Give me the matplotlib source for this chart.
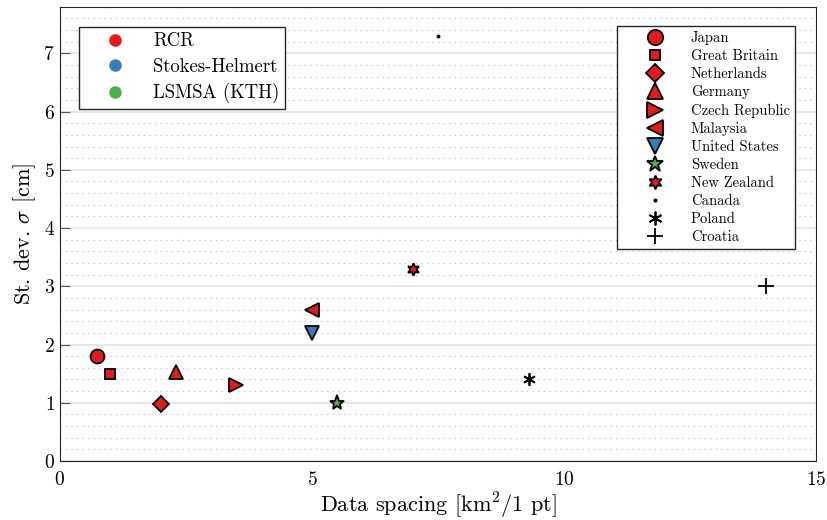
import numpy as np
import matplotlib
matplotlib.use("Agg")
import matplotlib.pyplot as plt
from matplotlib.lines import Line2D
from matplotlib.ticker import MultipleLocator

plt.rcParams['font.family'] = 'serif'
plt.rcParams['font.serif'] = ['cmr10', 'DejaVu Serif']
plt.rcParams['mathtext.fontset'] = 'cm'
plt.rcParams['axes.formatter.use_mathtext'] = True

# datos
paises = ["Japan", "Great Britain", "Netherlands", "Germany", "Czech Republic",
          "Malaysia", "United States", "Sweden", "New Zealand", "Canada",
          "Poland", "Croatia"]
espaciado = [0.75, 1.0, 2.0, 2.3, 3.5, 5.0, 5.0, 5.5, 7.0, 7.5, 9.3, 14.0]
sigma = [1.8, 1.5, 0.98, 1.52, 1.3, 2.6, 2.2, 1.0, 3.3, 7.3, 1.4, 3.0]
metodo = ["RCR", "RCR", "RCR", "RCR", "RCR", "RCR", "SH", "KTH", "RCR",
          None, None, None]
marcas = ["o", "s", "D", "^", ">", "<", "v", "*", (6, 1, 0), ".", (6, 2, 0), "+"]
tamanos = [10, 7, 8, 10, 10, 10, 10, 11, 9, 3, 9, 11]

colores = {"RCR": "#E41A1C", "SH": "#377EB8", "KTH": "#4DAF4A", None: "k"}
metodos_leyenda = ["RCR", "Stokes-Helmert", "LSMSA (KTH)"]

fig, ax = plt.subplots(figsize=(8.28, 5.2), dpi=100)

handles = []
for i in range(len(paises)):
    c = colores[metodo[i]]
    if metodo[i] is None:
        h, = ax.plot(espaciado[i], sigma[i], linestyle="none", marker=marcas[i],
                     markersize=tamanos[i], color="k", markeredgewidth=1.3,
                     label=paises[i])
    else:
        h, = ax.plot(espaciado[i], sigma[i], linestyle="none", marker=marcas[i],
                     markersize=tamanos[i], markerfacecolor=c,
                     markeredgecolor="k", markeredgewidth=1.3, label=paises[i])
    handles.append(h)

ax.set_xlim(0, 15)
ax.set_ylim(0, 7.8)
ax.xaxis.set_major_locator(MultipleLocator(5))
ax.yaxis.set_major_locator(MultipleLocator(1))
ax.yaxis.set_minor_locator(MultipleLocator(0.2))
ax.grid(True, axis="y", which="major", color="#e4e4e4", linewidth=1.2)
ax.grid(True, axis="y", which="minor", color="#bbbbbb", linestyle=(0, (1, 4)),
        linewidth=0.8)
ax.set_axisbelow(True)
ax.tick_params(direction="in", which="both", labelsize=14)
ax.tick_params(axis="y", which="major", length=7, color="#555555")
ax.tick_params(axis="x", length=0, pad=7)
ax.tick_params(which="minor", length=0)
for s in ax.spines.values():
    s.set_linewidth(0.8)
    s.set_color("#262626")

ax.set_xlabel(r"Data spacing [km$^2$/1 pt]", fontsize=16, labelpad=2)
ax.set_ylabel(r"St. dev. $\sigma$ [cm]", fontsize=16)

leg2 = ax.legend(handles=handles, loc="upper right", fontsize=10.5,
                 fancybox=False, edgecolor="#262626", framealpha=1,
                 borderpad=0.35, labelspacing=0.295, handletextpad=0.25,
                 handlelength=4.5, markerscale=1.1, borderaxespad=0,
                 bbox_to_anchor=(0.972, 0.958))
ax.add_artist(leg2)

h_met = [Line2D([], [], linestyle="none", marker="o", markersize=9,
                color=colores[k], markeredgewidth=0)
         for k in ["RCR", "SH", "KTH"]]
ax.legend(handles=h_met, labels=metodos_leyenda, loc="upper left",
          fontsize=13.5, fancybox=False, edgecolor="#262626", framealpha=1,
          borderpad=0.3, labelspacing=0.4, handletextpad=0.45,
          handlelength=3.2, borderaxespad=0, bbox_to_anchor=(0.026, 0.956))

plt.subplots_adjust(left=0.072, right=0.986, top=0.987, bottom=0.1135)
plt.savefig("out.png", dpi=100)
